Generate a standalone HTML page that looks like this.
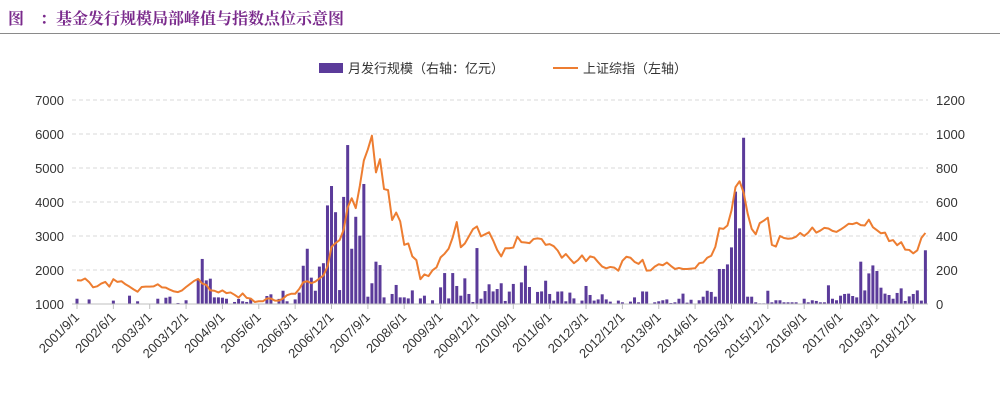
<!DOCTYPE html>
<html><head><meta charset="utf-8"><style>
body{margin:0;background:#fff;width:1000px;height:401px;overflow:hidden;font-family:"Liberation Sans","Noto Sans CJK SC",sans-serif}
</style></head><body>
<div style="position:absolute;left:8px;top:6px;font-size:16px;font-weight:bold;color:#7a2a8c;font-family:'Liberation Serif','Noto Serif CJK SC',serif">图　：基金发行规模局部峰值与指数点位示意图</div>
<div style="position:absolute;left:0;top:33px;width:1000px;height:1px;background:#8a8a8a"></div>
<svg id="chart" width="1000" height="401" style="position:absolute;left:0;top:0" font-family="Liberation Sans, Noto Sans CJK SC, sans-serif"></svg>
<script>
const tickLabels=["2001/9/1","2002/6/1","2003/3/1","2003/12/1","2004/9/1","2005/6/1","2006/3/1","2006/12/1","2007/9/1","2008/6/1","2009/3/1","2009/12/1","2010/9/1","2011/6/1","2012/3/1","2012/12/1","2013/9/1","2014/6/1","2015/3/1","2015/12/1","2016/9/1","2017/6/1","2018/3/1","2018/12/1"];
const leftTicks=[1000,2000,3000,4000,5000,6000,7000];
const rightTicks=[0,200,400,600,800,1000,1200];
const indexValues=[1700,1690,1750,1645,1490,1520,1600,1650,1510,1730,1650,1670,1580,1510,1430,1360,1500,1510,1510,1520,1580,1490,1480,1420,1370,1350,1400,1500,1590,1680,1740,1600,1560,1400,1390,1340,1400,1320,1340,1270,1190,1310,1180,1160,1060,1080,1080,1160,1160,1100,1100,1160,1260,1300,1300,1440,1640,1670,1610,1660,1750,1840,2100,2680,2790,2880,3180,3840,4110,3820,4470,5220,5550,5950,4870,5260,4380,4350,3470,3690,3430,2740,2780,2400,2290,1730,1870,1820,1990,2080,2370,2480,2630,2960,3410,2670,2780,2990,3200,3280,2990,3050,3110,2870,2590,2400,2640,2640,2660,2980,2820,2810,2790,2910,2930,2910,2740,2760,2700,2570,2360,2470,2330,2200,2290,2430,2260,2400,2370,2230,2100,2050,2090,2070,1980,2270,2390,2360,2240,2180,2300,1980,1990,2100,2170,2140,2220,2120,2030,2060,2030,2030,2040,2050,2200,2220,2360,2420,2680,3230,3210,3310,3750,4440,4610,4280,3660,3210,3050,3380,3450,3540,2740,2690,3000,2940,2920,2930,2980,3090,3000,3100,3250,3100,3160,3240,3220,3150,3120,3190,3270,3360,3350,3390,3320,3310,3480,3260,3170,3080,3100,2850,2880,2730,2820,2600,2590,2490,2580,2940,3090];
const fundValues=[31,0,0,27,0,0,0,0,0,20,0,0,0,49,0,16,0,0,0,0,31,0,37,43,0,6,0,22,0,0,145,265,139,149,39,39,37,31,0,12,30,16,12,30,0,0,0,47,57,0,30,78,16,0,27,67,225,325,155,78,220,240,580,694,540,82,630,935,325,513,402,706,43,122,249,229,39,0,59,112,39,39,33,80,0,33,49,0,22,0,98,182,33,182,106,49,151,59,12,329,31,76,116,74,88,122,18,73,118,0,127,225,100,0,71,74,137,59,20,73,74,16,67,33,0,20,106,53,20,27,57,27,14,0,20,10,0,14,39,10,74,73,0,10,16,22,27,6,10,31,61,8,25,0,22,43,78,71,43,206,206,233,333,661,445,978,43,43,10,4,4,78,10,22,22,10,10,10,10,0,31,10,22,18,10,10,110,31,22,49,59,61,47,39,249,80,180,227,194,96,61,53,31,65,92,18,45,59,80,20,316];

const svg=document.getElementById('chart');const NS='http://www.w3.org/2000/svg';
const X0=77,DX=4.04,YB=304,YT=100;
const xm=m=>X0+DX*m;
const yL=v=>YB-(v-1000)/6000*(YB-YT);
const yR=v=>YB-v/1200*(YB-YT);
function mk(t,a,p){const e=document.createElementNS(NS,t);for(const k in a)e.setAttribute(k,a[k]);(p||svg).appendChild(e);return e;}
leftTicks.forEach((v,i)=>{
 if(i>0){const g=mk('line',{x1:72,x2:928,y1:yL(v),y2:yL(v),stroke:'#d9d9d9','stroke-dasharray':'4,3'});
 
 }
 const t=mk('text',{x:64,y:yL(v)+5,'text-anchor':'end','font-size':13,fill:'#333'});t.textContent=v;
 
 
});
rightTicks.forEach(v=>{const t=mk('text',{x:936,y:yR(v)+5,'font-size':13,fill:'#333'});t.textContent=v;
 
 });
fundValues.forEach((v,m)=>{if(v<=0)return;const r=mk('rect',{x:xm(m)-1.5,y:yR(v),width:3,height:YB-yR(v),fill:'#5b3b9a'});
 
 });
const ax=mk('line',{x1:72,x2:928,y1:YB,y2:YB,stroke:'#bfbfbf'});


tickLabels.forEach((s,i)=>{const x=xm(i*9);
 mk('line',{x1:x,x2:x,y1:YB,y2:YB+5,stroke:'#bfbfbf'});
 const t=mk('text',{x:x+3,y:YB+14,'text-anchor':'end','font-size':13,fill:'#333',transform:`rotate(-45 ${x+3} ${YB+14})`});t.textContent=s;
 
 });
const pl=mk('polyline',{points:indexValues.map((v,m)=>xm(m)+','+yL(v)).join(' '),fill:'none',stroke:'#ed7d31','stroke-width':2,'stroke-linejoin':'round'});


// legend
const lg=mk('g',{});


mk('rect',{x:319,y:63,width:24,height:10,fill:'#5b3b9a'},lg);
const l1=mk('text',{x:348,y:73,'font-size':13,fill:'#333'},lg);l1.textContent='月发行规模（右轴：亿元）';


mk('line',{x1:553,x2:578,y1:68,y2:68,stroke:'#ed7d31','stroke-width':2},lg);
const l2=mk('text',{x:583,y:73,'font-size':13,fill:'#333'},lg);l2.textContent='上证综指（左轴）';


</script>
</body></html>
